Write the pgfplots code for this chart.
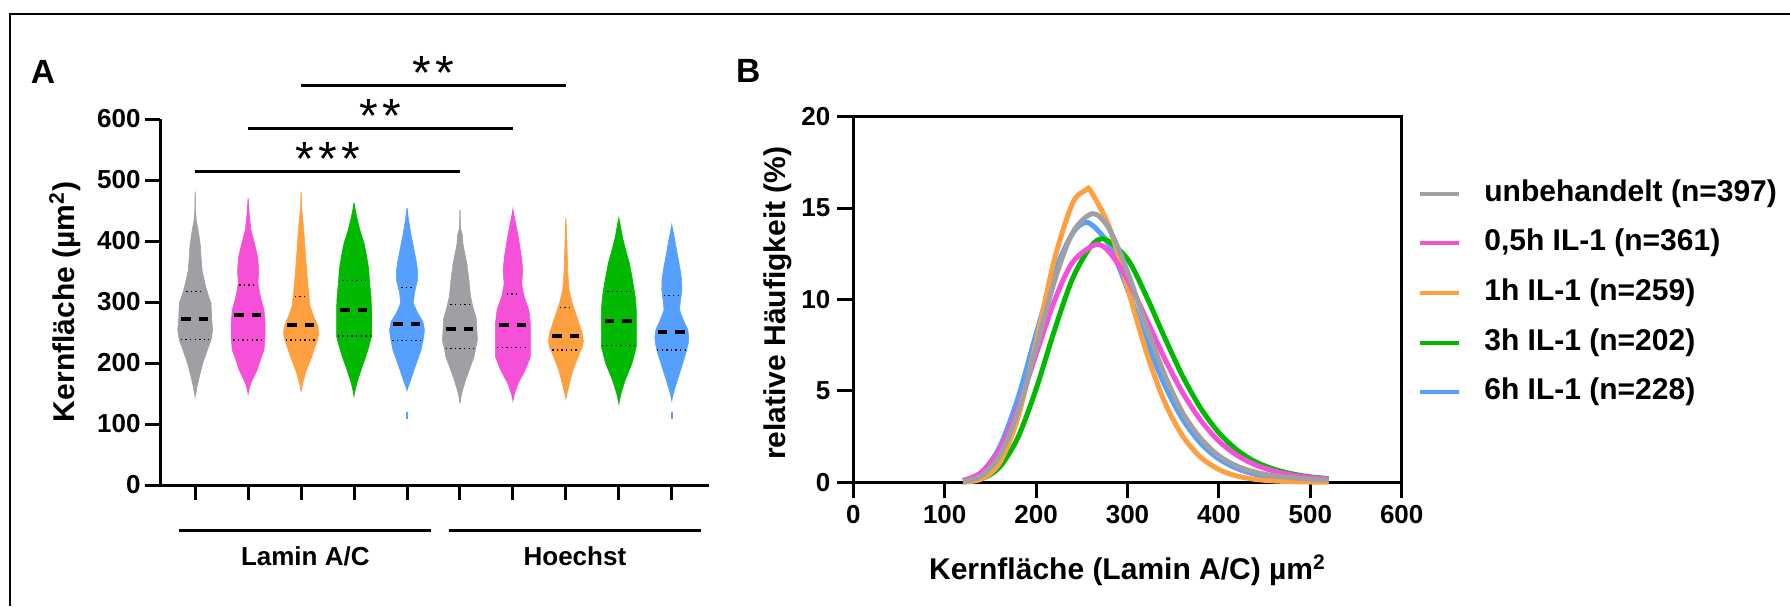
\documentclass[border=0pt]{standalone}
\usepackage{fontspec}
\setmainfont{Liberation Sans}
\usepackage{pgfplots}
\usepackage{pgfplotstable}
\pgfplotsset{compat=1.18}

\definecolor{cgray}{RGB}{160,160,164}
\definecolor{cpink}{RGB}{245,80,215}
\definecolor{corange}{RGB}{255,160,64}
\definecolor{cgreen}{RGB}{0,185,0}
\definecolor{cblue}{RGB}{85,160,255}

% violin outlines: y value, half width (in category units)
\pgfplotstableread{
y w
145 0
153 0.02
161 0.035
178 0.08
200 0.145
221 0.23
238 0.30
254 0.33
273 0.31
298 0.30
310 0.25
325 0.20
352 0.13
375 0.11
391 0.10
410 0.07
425 0.04
434 0.02
450 0.006
481 0
}\vA
\pgfplotstableread{
y w
150 0
158 0.02
167 0.053
188 0.166
210 0.25
221 0.30
243 0.32
265 0.32
287 0.30
309 0.23
331 0.186
352 0.20
374 0.18
396 0.12
418 0.053
445 0.02
470 0
}\vB
\pgfplotstableread{
y w
153 0
167 0.03
188 0.10
210 0.20
221 0.24
238 0.31
248 0.33
260 0.32
276 0.24
293 0.17
309 0.15
336 0.12
380 0.08
407 0.06
429 0.04
454 0.01
481 0
}\vC
\pgfplotstableread{
y w
147.5 0
155 0.02
166 0.05
188 0.13
210 0.22
227 0.28
244 0.33
265 0.33
287 0.33
309 0.32
336 0.29
352 0.28
374 0.24
396 0.19
418 0.11
434 0.065
448 0.03
462 0
}\vD
\pgfplotstableread{
y w
155.7 0
167 0.05
188 0.13
221 0.265
240 0.31
254 0.33
268 0.30
282 0.20
298 0.12
315 0.14
336 0.20
352 0.20
369 0.17
391 0.12
413 0.07
435 0.03
454 0
}\vE
\pgfplotstableread{
y w
134 0
145 0.02
156 0.05
178 0.13
210 0.265
238 0.33
254 0.32
272 0.31
290 0.25
309 0.20
336 0.17
363 0.13
380 0.09
396 0.055
404 0.05
412 0.04
420 0.01
434 0.005
451 0
}\vF
\pgfplotstableread{
y w
139 0
150 0.03
167 0.10
188 0.23
210 0.33
240 0.33
265 0.33
287 0.30
309 0.21
330 0.166
352 0.186
374 0.16
396 0.12
407 0.10
430 0.05
451 0
}\vG
\pgfplotstableread{
y w
142 0
161 0.053
188 0.133
210 0.23
226 0.31
236 0.33
248 0.31
270 0.23
298 0.12
320 0.06
350 0.035
390 0.02
420 0.01
437 0
}\vH
\pgfplotstableread{
y w
134 0
150 0.04
172 0.12
199.5 0.25
227 0.33
260 0.33
287 0.33
308 0.31
325 0.28
345 0.24
363 0.20
385 0.13
407 0.066
425 0.03
437 0
}\vI
\pgfplotstableread{
y w
139 0
150 0.03
161 0.066
188.5 0.166
216 0.265
232 0.31
243 0.32
255 0.30
270 0.22
287 0.146
300 0.16
320 0.19
336 0.186
352 0.16
380 0.10
405 0.05
426 0
}\vJ
\pgfplotstableread{
d e
-1 0
1 0
}\sidetab

% density curves (Kernflaeche, relative Haeufigkeit %)
\pgfplotstableread{
x y
120 0.044
140 0.35
160 1.45
180 3.84
200 7.34
220 10.99
240 13.66
262 14.7
280 13.86
300 11.52
320 8.64
340 5.96
360 3.84
380 2.40
400 1.45
420 0.88
440 0.55
460 0.36
480 0.25
500 0.17
520 0.12
}\cGray
\pgfplotstableread{
x y
120 0.097
140 0.54
160 1.78
180 4.04
200 7.00
220 9.92
240 12.04
265 13.0
280 12.60
300 11.09
320 9.00
340 6.84
360 4.93
380 3.40
400 2.25
420 1.47
440 0.95
460 0.62
480 0.40
500 0.27
520 0.18
}\cPink
\pgfplotstableread{
x y
120 0.013
140 0.18
160 1.06
180 3.51
200 7.65
220 12.18
240 15.28
255 16.0
260 15.91
280 13.98
300 10.64
320 7.22
340 4.46
360 2.56
380 1.37
400 0.70
420 0.34
440 0.16
460 0.075
480 0.033
500 0.015
520 0.006
}\cOrange
\pgfplotstableread{
x y
120 0.02
140 0.18
160 0.83
180 2.44
200 5.10
220 8.30
240 11.16
260 12.91
275 13.3
300 12.21
320 10.25
340 7.99
360 5.84
380 4.06
400 2.71
420 1.76
440 1.12
460 0.72
480 0.46
500 0.30
520 0.20
}\cGreen
\pgfplotstableread{
x y
120 0.081
140 0.53
160 1.92
180 4.59
200 8.11
220 11.45
240 13.62
257 14.2
280 12.97
300 10.56
320 7.84
340 5.39
360 3.48
380 2.14
400 1.28
420 0.75
440 0.44
460 0.26
480 0.16
500 0.10
520 0.07
}\cBlue

% #1 table, #2 centre, #3 colour, #4 median, #5 q1, #6 q3, #7 q1 half width, #8 q3 half width
\newcommand{\violin}[8]{%
  \addplot[fill=#3, draw=#3, line width=0.3pt] table[x expr=#2+\thisrow{w}, y=y] {#1} -- cycle;
  \addplot[fill=#3, draw=#3, line width=0.3pt] table[x expr=#2-\thisrow{w}, y=y] {#1} -- cycle;
  \addplot[black, line width=2pt, dash pattern=on 4.7pt off 4pt] table[x expr=#2+0.26*\thisrow{d}, y expr=#4+\thisrow{e}] {\sidetab};
  \addplot[black, line width=0.7pt, dash pattern=on 0.7pt off 1.6pt] table[x expr=#2+#7*\thisrow{d}, y expr=#5+\thisrow{e}] {\sidetab};
  \addplot[black, line width=0.7pt, dash pattern=on 0.7pt off 1.6pt] table[x expr=#2+#8*\thisrow{d}, y expr=#6+\thisrow{e}] {\sidetab};
}
\newcommand{\stars}[1]{\fontsize{24}{24}\selectfont#1}
\newcommand{\st}{*\hspace{2.2pt}}

\begin{document}
\begin{tikzpicture}
\useasboundingbox (0,0) rectangle (895pt,303pt);
\draw[line width=1pt] (5pt,0) -- (5pt,296pt) -- (895pt,296pt);
\node[anchor=base west, inner sep=0pt, font=\bfseries\fontsize{16.8}{16.8}\selectfont] at (15.3pt,261.35pt) {A};
\node[anchor=base west, inner sep=0pt, font=\bfseries\fontsize{16.8}{16.8}\selectfont] at (367.9pt,261.65pt) {B};

% ---------------- Panel A ----------------
\begin{axis}[
  at={(80pt,60.5pt)}, anchor=south west, scale only axis,
  width=274.7pt, height=183pt,
  xmin=0.336, xmax=10.71, ymin=0, ymax=600,
  axis x line=bottom, axis y line=left,
  axis line style={-, line width=1.5pt},
  xtick={1,...,10}, xticklabels={},
  ytick={0,100,...,600},
  tick align=outside, major tick length=7.5pt,
  tick style={line width=1.5pt, black},
  /pgf/number format/assume math mode=true,
  tick label style={font=\bfseries\fontsize{13}{13}\selectfont},
  yticklabel style={inner xsep=2pt},
  ylabel={Kernfläche (µm\textsuperscript{2})},
  ylabel style={at={(axis description cs:-0.173,0.5)}, anchor=center, font=\bfseries\fontsize{15}{15}\selectfont},
  clip=false,
]
\violin{\vA}{1}{cgray}{272}{239}{317}{0.27}{0.17}
\violin{\vB}{2}{cpink}{278.7}{237.7}{327.9}{0.28}{0.17}
\violin{\vC}{3}{corange}{262.3}{237.7}{308.8}{0.29}{0.12}
\violin{\vD}{4}{cgreen}{287}{244.3}{335}{0.31}{0.22}
\violin{\vE}{5}{cblue}{264}{237.2}{324}{0.28}{0.11}
\violin{\vF}{6}{cgray}{255.7}{224.1}{295.6}{0.27}{0.18}
\violin{\vG}{7}{cpink}{262.3}{225.1}{313.1}{0.30}{0.12}
\violin{\vH}{8}{corange}{244.8}{221.3}{290.7}{0.26}{0.12}
\violin{\vI}{9}{cgreen}{269.4}{228.4}{317}{0.32}{0.22}
\violin{\vJ}{10}{cblue}{250.3}{221.3}{310.9}{0.28}{0.15}
\addplot[cblue, line width=1pt] coordinates {(5,109) (5,120)};
\addplot[cblue, line width=1pt] coordinates {(10,108) (10,120)};
% significance bars
\draw[line width=1.5pt] (axis cs:1,513.6) -- (axis cs:6,513.6);
\draw[line width=1.5pt] (axis cs:2,584.8) -- (axis cs:7,584.8);
\draw[line width=1.5pt] (axis cs:3,655.7) -- (axis cs:8,655.7);
\node[anchor=base, inner sep=0pt] at (axis cs:3.5,506.7) {\stars{\st\st*}};
\node[anchor=base, inner sep=0pt] at (axis cs:4.5,577.7) {\stars{\st*}};
\node[anchor=base, inner sep=0pt] at (axis cs:5.5,648.7) {\stars{\st*}};
% groups
\draw[line width=1.5pt] (axis cs:0.703,-73.8) -- (axis cs:5.46,-73.8);
\draw[line width=1.5pt] (axis cs:5.79,-73.8) -- (axis cs:10.55,-73.8);
\node[font=\bfseries\fontsize{13}{13}\selectfont] at (axis cs:3.08,-117.5) {Lamin A/C};
\node[font=\bfseries\fontsize{13}{13}\selectfont] at (axis cs:8.17,-117.5) {Hoechst};
\end{axis}

% ---------------- Panel B ----------------
\begin{axis}[
  at={(426.65pt,61.85pt)}, anchor=south west, scale only axis,
  width=274.2pt, height=182.8pt,
  xmin=0, xmax=600, ymin=0, ymax=20,
  xtick={0,100,...,600}, ytick={0,5,...,20},
  axis line style={line width=1.5pt},
  tick pos=left, tick align=outside, major tick length=8pt,
  tick style={line width=1.5pt, black},
  /pgf/number format/assume math mode=true,
  tick label style={font=\bfseries\fontsize{13}{13}\selectfont},
  xlabel={Kernfläche (Lamin A/C) µm\textsuperscript{2}},
  ylabel={relative Häufigkeit (\%)},
  xlabel style={at={(axis description cs:0.5,-0.24)}, anchor=center, font=\bfseries\fontsize{15}{15}\selectfont},
  ylabel style={at={(axis description cs:-0.137,0.49)}, anchor=center, font=\bfseries\fontsize{15}{15}\selectfont},
  reverse legend,
  legend style={at={(1.0297,0.83)}, anchor=north west, draw=none, fill=none, inner sep=0pt,
    row sep=10.3pt, column sep=11.5pt,
    font=\bfseries\fontsize{15}{15}\selectfont,
    nodes={inner sep=0pt, text height=11pt, text depth=3.5pt}},
  legend cell align=left,
  legend image code/.code={\draw[#1, line width=2pt] (0pt,0pt) -- (19.5pt,0pt);},
  clip=false,
]
\addplot[cblue, line width=2.5pt, smooth] table {\cBlue};
\addlegendentry{6h IL-1 (n=228)}
\addplot[cgreen, line width=2.5pt, smooth] table {\cGreen};
\addlegendentry{3h IL-1 (n=202)}
\addplot[corange, line width=2.5pt, smooth] table {\cOrange};
\addlegendentry{1h IL-1 (n=259)}
\addplot[cpink, line width=2.5pt, smooth] table {\cPink};
\addlegendentry{0,5h IL-1 (n=361)}
\addplot[cgray, line width=2.5pt, smooth] table {\cGray};
\addlegendentry{unbehandelt (n=397)}
\end{axis}
\end{tikzpicture}
\end{document}
